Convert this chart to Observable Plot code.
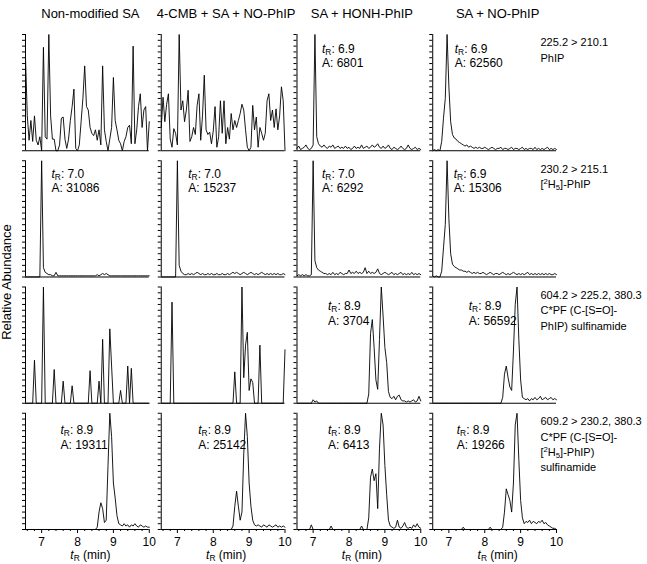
<!DOCTYPE html>
<html><head><meta charset="utf-8">
<script src="https://cdn.jsdelivr.net/npm/d3@7"></script>
<script src="https://cdn.jsdelivr.net/npm/@observablehq/plot@0.6"></script>
<style>
html,body{margin:0;padding:0;background:#fff;}
#chart svg{display:block;}
</style></head><body><div id="chart"></div>
<script>
// ---------- data ----------
const columns = ["Non-modified SA", "4-CMB + SA + NO-PhIP", "SA + HONH-PhIP", "SA + NO-PhIP"];
const rowLabels = [
  "225.2 > 210.1\nPhIP",
  "230.2 > 215.1\n[<sup>2</sup>H<sub>5</sub>]-PhIP",
  "604.2 > 225.2, 380.3\nC*PF (C-[S=O]-\nPhIP) sulfinamide",
  "609.2 > 230.2, 380.3\nC*PF (C-[S=O]-\n[<sup>2</sup>H<sub>5</sub>]-PhIP)\nsulfinamide"
];
const majorTicks = [7, 8, 9, 10];
const minorTicks = [6.6, 6.8, 7.2, 7.4, 7.6, 7.8, 8.2, 8.4, 8.6, 8.8, 9.2, 9.4, 9.6, 9.8];
const yTicks = [0,5,10,15,20,25,30,35,40,45,50,55,60,65,70,75,80,85,90,95,100];

// retention time (min) sampling of the traces
const tGrid = [6.55,6.60,6.65,6.70,6.75,6.80,6.85,6.90,6.95,7.00,
  7.05,7.10,7.15,7.20,7.25,7.30,7.35,7.40,7.45,7.50,
  7.55,7.60,7.65,7.70,7.75,7.80,7.85,7.90,7.95,8.00,
  8.05,8.10,8.15,8.20,8.25,8.30,8.35,8.40,8.45,8.50,
  8.55,8.60,8.65,8.70,8.75,8.80,8.85,8.90,8.95,9.00,
  9.05,9.10,9.15,9.20,9.25,9.30,9.35,9.40,9.45,9.50,
  9.55,9.60,9.65,9.70,9.75,9.80,9.85,9.90,9.95,10.00];

// relative abundance (%), PhIP 225.2 > 210.1
const phip_nonmod = [80,30,9,26,8,30,9,5,12,0, 89,12,10,100,30,10,10,0,0,5, 28,29,10,2,10,26,38,53,2,0,
  5,25,45,73,38,35,20,15,13,18, 9,18,5,73,18,8,0,10,20,63, 26,18,9,6,0,8,12,20,22,6, 90,6,18,38,49,20,35,38,0,25];
const phip_cmb = [20,46,25,40,49,10,3,19,15,5, 100,35,43,25,35,52,8,12,20,14, 39,49,9,30,65,18,14,16,6,17,
  38,3,12,43,15,43,6,20,10,32, 18,26,20,26,32,40,35,18,3,0, 3,39,18,29,3,20,15,9,15,43, 49,26,35,20,36,18,30,55,43,0];
const phip_honh = [2,4,1,2,3,5,2,1,2,5, 100,12,6,4,3,5,3,2,4,3, 5,2,3,4,2,3,2,4,2,3,
  1,2,4,2,3,2,5,2,3,4, 2,3,5,3,4,6,3,2,4,2, 3,5,2,1,3,2,1,2,4,2, 1,2,5,2,1,2,3,1,2,1];
const phip_no = [0,1,0,1,0,8,28,45,100,55, 25,14,11,10,8,7,6,5,4,5, 3,4,3,2,3,2,3,2,2,3,
  2,1,2,3,2,1,2,2,3,1, 2,2,1,2,3,1,2,2,1,2, 3,1,2,1,2,2,1,3,1,2, 1,2,1,2,3,1,2,1,2,1];

// [2H5]-PhIP 230.2 > 215.1
const d5phip_nonmod = [0,0,0,0,0,0,0,0,0,100, 8,4,3,2,2,1,1,4,1,1, 1,1,1,1,1,1,1,1,1,1,
  1,1,1,1,1,1,1,1,1,1, 2,1,2,3,2,3,2,1,1,1, 1,1,1,1,1,1,1,1,1,1, 1,1,1,1,1,1,1,1,1,1];
const d5phip_cmb = [0,0,0,0,0,0,0,0,0,100, 10,5,3,2,2,3,2,3,2,3, 4,3,2,3,2,2,3,2,3,2,
  2,3,2,2,3,2,2,3,2,3, 4,3,4,3,2,3,4,3,2,3, 4,3,2,3,2,3,4,3,2,3, 2,3,2,3,2,3,2,2,3,2];
const d5phip_honh = [1,2,1,2,1,2,1,1,2,100, 14,8,6,5,4,3,3,2,3,2, 4,2,3,2,4,3,2,3,3,6,
  3,4,3,5,3,4,3,4,8,3, 5,3,4,3,4,7,3,2,3,4, 3,2,3,4,2,3,2,3,4,2, 3,2,3,2,4,2,3,2,3,2];
const d5phip_no = [1,0,1,0,0,5,25,45,100,50, 20,11,9,8,7,6,6,5,5,4, 5,4,3,4,3,4,3,3,4,3,
  2,3,4,3,2,3,3,2,3,4, 3,2,3,2,3,4,3,2,3,2, 3,2,3,4,2,3,2,3,2,3, 2,3,2,3,2,3,2,2,3,2];

// C*PF (C-[S=O]-PhIP) sulfinamide 604.2 > 225.2, 380.3
const sulf_nonmod = [0,0,0,0,0,37,0,0,0,0, 100,0,0,0,0,0,29,0,0,0, 0,19,0,0,0,0,15,0,0,0,
  0,0,0,0,0,0,28,0,0,0, 0,19,0,55,0,0,0,64,32,0, 0,0,0,11,0,0,0,32,0,30, 0,0,0,0,0,0,0,0,0,0];
const sulf_cmb = [0,0,0,0,0,0,87,0,0,0, 0,0,0,0,0,0,0,0,0,0, 0,0,0,0,0,0,0,0,0,0,
  0,0,0,0,0,0,0,0,0,0, 0,27,0,0,0,100,22,50,61,11, 21,18,0,0,0,50,0,0,0,0, 0,0,0,0,0,0,0,0,0,46];
const sulf_honh = [0,0,0,0,0,0,0,0,0,3, 1,2,0,0,0,0,0,0,0,0, 0,0,0,0,0,0,0,0,0,0,
  0,0,0,0,0,0,0,0,0,0, 8,60,72,48,20,12,55,100,75,48, 35,10,5,4,6,3,6,7,3,2, 2,1,2,1,2,3,1,2,6,2];
const sulf_no = [0,0,0,0,0,0,0,0,0,0, 0,0,0,0,0,0,0,0,0,0, 0,0,0,0,0,0,0,0,0,0,
  0,0,0,0,0,0,0,0,0,5, 25,32,22,14,11,45,85,100,55,20, 5,4,3,4,2,4,3,5,3,4, 6,3,4,5,3,4,5,3,4,3];

// C*PF (C-[S=O]-[2H5]-PhIP) sulfinamide 609.2 > 230.2, 380.3
const d5sulf_nonmod = [0,0,0,0,0,0,0,0,0,0, 0,0,0,0,0,0,0,0,0,0, 0,0,0,0,0,0,0,0,0,0,
  0,0,0,0,0,0,0,0,0,0, 2,15,23,18,6,8,55,100,80,40, 27,12,5,4,3,5,3,4,2,4, 3,5,3,2,4,3,2,3,2,2];
const d5sulf_cmb = [0,0,0,0,0,0,0,0,0,0, 0,0,0,0,0,0,0,0,0,0, 0,0,0,0,0,0,0,0,0,0,
  0,0,0,0,0,0,0,0,0,0, 3,20,33,20,8,15,65,100,80,40, 20,8,4,3,4,3,2,4,3,2, 4,3,2,3,4,2,3,2,3,2];
const d5sulf_honh = [0,0,0,0,0,0,0,0,4,0, 0,0,0,0,0,0,0,0,0,3, 0,0,0,0,0,0,0,0,0,0,
  0,0,0,0,0,0,3,0,0,0, 10,45,52,42,48,18,70,100,90,55, 30,8,3,2,1,2,8,2,1,3, 6,2,1,2,1,4,2,5,2,1];
const d5sulf_no = [0,0,0,0,0,0,0,0,0,0, 0,0,0,0,0,0,0,2,0,0, 0,0,0,0,0,0,0,0,0,0,
  0,0,2,0,0,0,0,0,0,2, 15,35,30,25,15,40,90,100,60,25, 10,5,7,6,8,5,7,6,5,7, 6,8,5,6,4,3,2,1,1,0];

// peak annotations
const annoRow  = [0, 0, 1, 1, 1, 1, 2, 2, 3, 3, 3, 3];
const annoCol  = [2, 3, 0, 1, 2, 3, 2, 3, 0, 1, 2, 3];
const annoTR   = ["6.9","6.9","7.0","7.0","7.0","6.9","8.9","8.9","8.9","8.9","8.9","8.9"];
const annoArea = ["6801","62560","31086","15237","6292","15306","3704","56592","19311","25142","6413","19266"];

// ---------- layout (pixels) ----------
const annoDx = [25, 22, 26, 27, 25, 21, 31, 36, 35, 37, 31, 24];
const annoDyByRow = [8, 7, 13, 11];
const FONT = "'Liberation Sans', Arial, Helvetica, sans-serif";

// ---------- build ----------
const traces = [
  [phip_nonmod, phip_cmb, phip_honh, phip_no],
  [d5phip_nonmod, d5phip_cmb, d5phip_honh, d5phip_no],
  [sulf_nonmod, sulf_cmb, sulf_honh, sulf_no],
  [d5sulf_nonmod, d5sulf_cmb, d5sulf_honh, d5sulf_no]
];
const table = [];
traces.forEach((arrs, r) => arrs.forEach((vals, c) => vals.forEach((v, i) =>
  table.push({t: tGrid[i], v, row: r, col: columns[c]}))));

const xMin = tGrid[0], xMax = tGrid[tGrid.length - 1];

const annoMarks = annoRow.map((r, k) => Plot.text([k], {
  fx: () => columns[annoCol[k]], fy: () => r,
  text: () => `<i>t</i><sub>R</sub>: ${annoTR[k]}\nA: ${annoArea[k]}`,
  frameAnchor: "top-left", textAnchor: "start", lineAnchor: "top",
  dx: annoDx[k], dy: annoDyByRow[r], fontSize: 12, lineHeight: 1.2
}));

const chart = Plot.plot({
  width: 647, height: 564,
  marginLeft: 25, marginRight: 91, marginTop: 34, marginBottom: 35,
  style: {fontFamily: FONT, fontSize: "12px", color: "#000", background: "#fff"},
  x: {domain: [xMin, xMax]},
  y: {domain: [0, 100]},
  fx: {domain: columns, paddingInner: 12 / 136, paddingOuter: 0, round: false, axis: null},
  fy: {domain: [0, 1, 2, 3], paddingInner: 10 / 126, paddingOuter: 0, round: false, axis: null},
  marks: [
    Plot.ruleY([0], {stroke: "#000", strokeWidth: 1}),
    Plot.ruleX([xMin], {y1: 0, y2: 100, stroke: "#000", strokeWidth: 1}),
    Plot.axisY({ticks: yTicks, tickSize: 3, tickFormat: () => "", label: null, facetAnchor: null}),
    Plot.axisX({ticks: majorTicks, tickSize: 4, tickPadding: 4, tickFormat: d => `${d}`, label: null, fontSize: 12}),
    Plot.axisX({ticks: minorTicks, tickSize: 2, tickFormat: () => "", label: null}),
    Plot.line(table, {x: "t", y: "v", fx: "col", fy: "row", z: d => d.col + d.row,
      stroke: "#000", strokeWidth: 0.9}),
    Plot.text(columns, {fx: d => d, fy: () => 0, text: d => d, frameAnchor: "top",
      dx: 3, dy: -21, lineAnchor: "middle", fontSize: 13}),
    Plot.text(rowLabels, {fx: () => columns[3], fy: (d, i) => i, text: d => d,
      frameAnchor: "top-right", textAnchor: "start", lineAnchor: "top",
      dx: -16, dy: 1, fontSize: 11, lineHeight: 1.4}),
    Plot.text(columns, {fx: d => d, fy: () => 3, text: () => "<i>t</i><sub>R</sub> (min)",
      frameAnchor: "bottom", dx: 3, dy: 26, lineAnchor: "middle", fontSize: 12}),
    Plot.text(["Relative Abundance"], {fx: () => columns[0], fy: () => 1, text: d => d,
      frameAnchor: "bottom-left", rotate: -90, dx: -15, dy: 5, textAnchor: "middle", fontSize: 13}),
    ...annoMarks
  ]
});

// rich text: italics, sub- and superscripts (shift in px, undone on the next segment)
function rich(svg) {
  const ns = "http://www.w3.org/2000/svg";
  const shift = {sub: 2, sup: -4};
  svg.querySelectorAll("text, tspan").forEach(el => {
    if (el.children.length) return;
    const s = el.textContent;
    if (!s.includes("<")) return;
    el.textContent = "";
    const re = /<(i|sub|sup)>(.*?)<\/\1>|([^<]+)/g;
    let m, pending = 0;
    while ((m = re.exec(s))) {
      const ts = document.createElementNS(ns, "tspan");
      let my = 0;
      if (m[3] !== undefined) ts.textContent = m[3];
      else {
        ts.textContent = m[2];
        if (m[1] === "i") ts.setAttribute("font-style", "italic");
        else {
          ts.setAttribute("font-size", "70%");
          my = shift[m[1]];
        }
      }
      const d = my - pending;
      if (d) ts.setAttribute("dy", d);
      pending = my;
      el.appendChild(ts);
    }
  });
}
rich(chart);
document.getElementById("chart").appendChild(chart);
</script></body></html>
